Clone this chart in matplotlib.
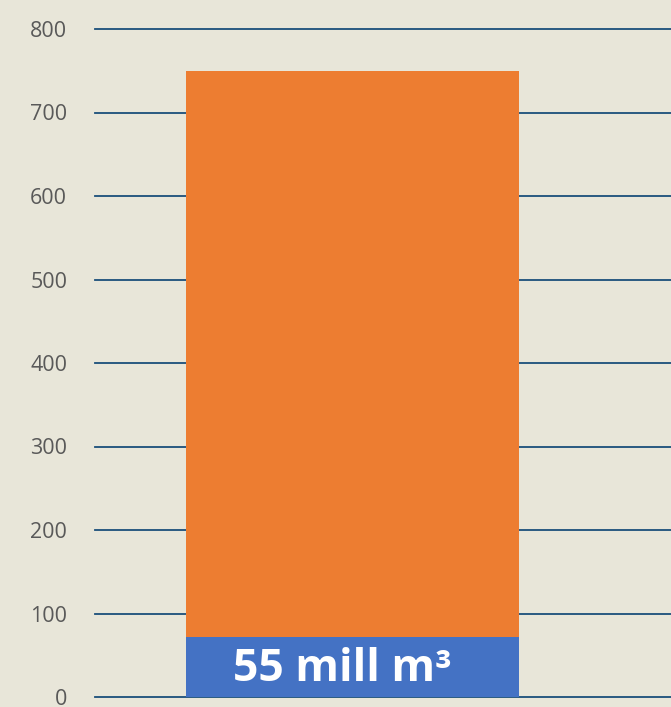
import matplotlib
matplotlib.use("Agg")
import matplotlib.pyplot as plt

# data
categories = [""]
base_values = [72]      # blue segment
top_values = [678]      # orange segment, stacked on top (total ~750)
bar_label = "55 mill m³"
y_ticks = [0, 100, 200, 300, 400, 500, 600, 700, 800]

bg = "#E8E6D9"
plt.rcParams['font.family'] = ['Open Sans', 'DejaVu Sans']

fig = plt.figure(figsize=(6.71, 7.07), dpi=100, facecolor=bg)
ax = fig.add_axes([95 / 671, 10 / 707, 576 / 671, 668 / 707], facecolor=bg)

x = list(range(len(categories)))
ax.bar(x, base_values, width=1.0, color="#4472C4", zorder=3)
ax.bar(x, top_values, bottom=base_values, width=1.0, color="#ED7D31", zorder=3)

ax.text(x[0] - 0.03, base_values[0] / 2 - 3, bar_label, color="white",
        fontsize=32, fontweight="bold", ha="center", va="center", zorder=4)

ax.set_xlim(-0.773, 0.957)
ax.set_ylim(0, 800)
ax.set_yticks(y_ticks)
ax.set_xticks([])
ax.tick_params(axis="y", length=0, pad=20, labelsize=15.5, labelcolor="#595959")
for s in ax.spines.values():
    s.set_visible(False)
ax.yaxis.grid(True, color="#1B4F7A", linewidth=1.3, zorder=1)
ax.set_axisbelow(True)
for gl in ax.get_ygridlines():
    gl.set_clip_on(False)

fig.savefig("out.png", dpi=100, facecolor=bg)
